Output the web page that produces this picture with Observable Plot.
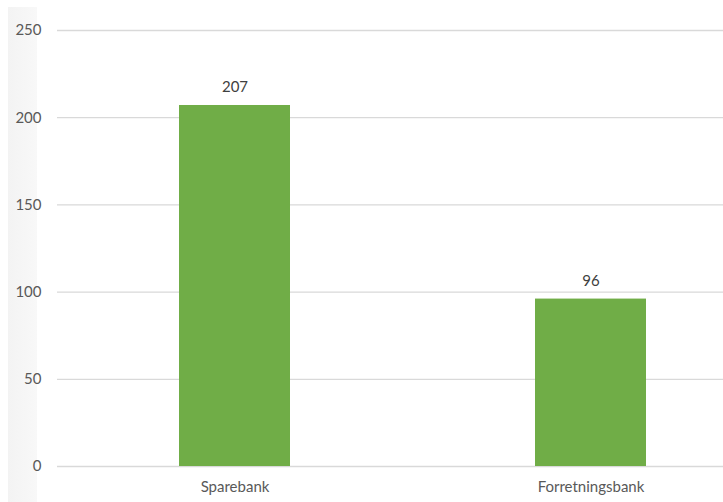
<!DOCTYPE html>
<html>
<head>
<meta charset="utf-8">
<script src="https://cdn.jsdelivr.net/npm/d3@7"></script>
<script src="https://cdn.jsdelivr.net/npm/@observablehq/plot@0.6"></script>
<style>
  html, body { margin: 0; padding: 0; background: #fff; }
  #wrap { position: relative; width: 723px; height: 502px; overflow: hidden; }
  #strip { position: absolute; left: 8px; top: 7px; width: 29px; height: 495px; background: linear-gradient(to right, #f3f3f3, #f8f8f8); }
  #chart { position: absolute; left: 0; top: 0; }
</style>
</head>
<body>
<div id="wrap"><div id="strip"></div><div id="chart"></div></div>
<script>
const categories = ["Sparebank", "Forretningsbank"];
const values = [207, 96];
const yTicks = [0, 50, 100, 150, 200, 250];

const data = categories.map((c, i) => ({category: c, value: values[i]}));

const chart = Plot.plot({
  width: 723,
  height: 502,
  marginLeft: 57,
  marginRight: 0,
  marginTop: 30,
  marginBottom: 36,
  style: {fontFamily: "Lato, 'Open Sans', sans-serif", fontSize: "15px", color: "#595959", background: "transparent", overflow: "visible"},
  x: {domain: categories, range: [57, 769], paddingInner: 0.688, paddingOuter: 0.344, label: null},
  y: {domain: [0, 250], label: null},
  marks: [
    Plot.ruleY(yTicks, {stroke: "#d9d9d9", strokeWidth: 1.3}),
    Plot.barY(data, {x: "category", y: "value", fill: "#70AD47"}),
    Plot.text(data, {x: "category", y: "value", text: d => String(d.value), dy: -13, lineAnchor: "bottom", fill: "#404040", fontSize: 15}),
    Plot.axisY({ticks: yTicks, tickSize: 0, tickPadding: 16, fill: "#595959", label: null}),
    Plot.axisX({tickSize: 0, tickPadding: 15, fill: "#595959", label: null})
  ]
});
document.getElementById("chart").appendChild(chart);
</script>
</body>
</html>
